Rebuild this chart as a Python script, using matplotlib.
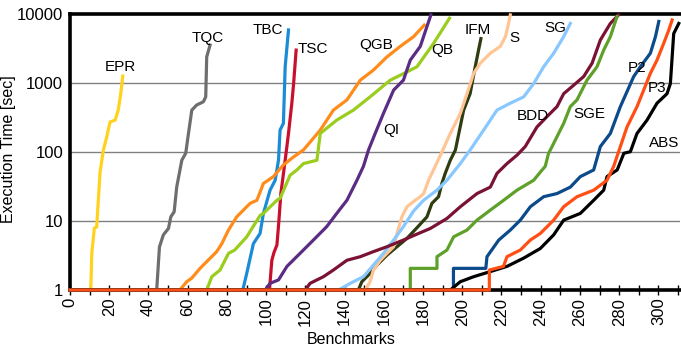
import matplotlib
matplotlib.use("Agg")
import matplotlib.pyplot as plt
from matplotlib.ticker import MultipleLocator, FixedLocator, NullFormatter

plt.rcParams['font.family'] = ['Liberation Sans', 'DejaVu Sans']

# benchmarks solved (x) vs execution time in seconds (y)
epr_x = [10.6, 11.1, 12.4, 13.6, 15.3, 17, 18.7, 20.4, 23, 24.6, 25.9, 26.9]
epr_y = [1, 3.4, 7.9, 8.2, 50, 107, 164, 272, 290, 405, 710, 1260]

tqc_x = [44.2, 45.6, 47.6, 50.2, 51.4, 53.1, 54.4, 57, 59, 60.4, 62.1, 64.6, 68, 69.2, 69.7, 71.4]
tqc_y = [1, 4.2, 6.3, 7.8, 11.5, 13.6, 31, 76, 96, 186, 405, 480, 535, 630, 2390, 3540]

qgb_x = [56, 59.5, 62, 66.3, 71.4, 74.8, 77.4, 80.8, 85, 91.8, 95.3, 98.6, 103.7, 108.8, 114,
         119, 127.6, 134.3, 141.2, 148, 154.7, 161.6, 168.4, 175.2, 180.6]
qgb_y = [1, 1.32, 1.48, 2.06, 2.88, 3.6, 4.7, 7.4, 11.5, 18, 20, 35, 44, 65, 85,
         107, 208, 405, 570, 1100, 1540, 2390, 3400, 4700, 6900]

qb_x = [69.7, 72.3, 76.5, 80.8, 84, 90.1, 96.9, 98.6, 105.5, 107.1, 112.2, 115.7, 119, 125.9, 127.6,
        136, 144.5, 153, 163.3, 171.8, 176.9, 185.4, 193.5]
qb_y = [1, 1.56, 1.95, 3.4, 3.8, 5.9, 12, 12.9, 20, 21.3, 46, 55, 68, 76, 186,
        290, 405, 630, 1100, 1450, 1720, 3760, 8700]

tbc_x = [88.1, 90.1, 93.5, 96.9, 98.6, 102, 104.6, 106.3, 107.1, 108.8, 109.7, 111.4]
tbc_y = [1, 1.74, 4.7, 6.6, 12.9, 28, 39, 76, 208, 260, 1720, 5870]

tsc_x = [101.7, 102.9, 104, 105.5, 106.5, 107.5, 109.7, 111.4, 113.1, 114, 115.3]
tsc_y = [1, 2.7, 3.5, 4.5, 10, 25, 76, 186, 510, 980, 3000]

qi_x = [99.5, 102, 106.3, 110.6, 117.3, 124.1, 130.9, 136, 141.2, 146.3, 149.6, 152.2, 155.6,
        159.8, 165, 170, 173.5, 178.6, 182, 184]
qi_y = [1, 1.25, 1.4, 2.2, 3.4, 5.3, 8.3, 12.9, 20, 39, 62, 107, 186,
        362, 790, 1100, 2150, 3400, 6600, 9700]

bdd_x = [119.9, 122.4, 129.2, 134.3, 141.2, 148, 154.7, 161.6, 170, 176, 183.7, 192.2, 199,
         207.5, 214.3, 217.7, 222.8, 227.9, 232.1, 238.1, 243.2, 248.3, 251.7, 256.8, 261.9,
         266.2, 270.4, 275.5, 279.7]
bdd_y = [1, 1.25, 1.56, 1.95, 2.7, 3.04, 3.6, 4.24, 5.3, 6.3, 7.8, 10.9, 16.1,
         25, 31, 49, 68, 90, 120, 231, 326, 455, 700, 930, 1240,
         1940, 4200, 7300, 9700]

sg_x = [136.9, 142.9, 149.6, 154.7, 159.8, 165, 170, 175.2, 180.3, 187.1, 192.2, 199, 204,
        210.9, 217.7, 224.5, 231.3, 236.4, 241.5, 246.6, 251.7, 255.1]
sg_y = [1, 1.25, 1.56, 2.3, 3.4, 5.3, 8.3, 14, 20, 28, 39, 68, 107,
        208, 405, 510, 630, 980, 1720, 2700, 4700, 7300]

ifm_x = [147, 148.8, 153, 156.5, 161.6, 166.7, 171.8, 176.9, 182, 184.5, 187.9, 189.6, 191.3,
         193.9, 196.5, 200.7, 204, 206.6, 208.3, 209.5]
ifm_y = [1, 1.32, 1.74, 2.3, 3.2, 4.24, 5.6, 8, 11.5, 18, 22.5, 35, 49,
         76, 107, 405, 700, 1720, 3000, 4400]

s_x = [150.5, 153, 154.7, 158.2, 161.6, 165, 166.7, 169.2, 171.8, 176, 178.6, 180.3, 182.8, 186.2,
       189.6, 193.9, 199, 202.4, 205.8, 209.2, 214.3, 219.4, 222, 223.6, 224.5]
s_y = [1, 1.32, 1.95, 2.7, 3.4, 4.24, 6.6, 11.5, 16.1, 20, 22.5, 25, 39, 62,
       100, 186, 362, 700, 1380, 1940, 2700, 3400, 4700, 7300, 9700]

sge_x = [173.5, 173.5, 175.2, 187.1, 187.1, 192.2, 195.6, 202.4, 207.5, 214.3, 221.1, 227.9, 236.4,
         240, 242.3, 244, 244.9, 251.7, 255.1, 258.5, 263.6, 268.7, 272.1, 275.5, 278.9]
sge_y = [1, 2.06, 2.06, 2.06, 3.04, 3.8, 5.9, 7.4, 10.3, 14.4, 20, 28, 39,
         52, 62, 96, 107, 260, 455, 570, 1100, 1720, 3000, 4700, 9200]

p2_x = [195.5, 195.5, 212, 212.6, 218.6, 224.5, 229.6, 234.7, 241.5, 248.3, 255.1, 260.2, 267,
        270.4, 275.5, 280.6, 287.4, 290.8, 295.9, 298.5, 300.2]
p2_y = [1, 2.06, 2.06, 3.04, 5.3, 7.4, 10.3, 16.1, 22.5, 25, 31, 44, 55,
        120, 186, 455, 1240, 1720, 2700, 4700, 7800]

abs_x = [193.9, 199, 205.8, 214.3, 222.8, 231.3, 239.8, 246.6, 251.7, 260.2, 267, 272.1, 273.8,
         279, 282.4, 285.7, 289.1, 294.2, 299.3, 304.4, 306.1, 307.8, 310.4]
abs_y = [1, 1.32, 1.56, 1.85, 2.2, 2.9, 4, 6.3, 10.3, 12.9, 20, 28, 44,
         55, 96, 101, 186, 290, 510, 700, 980, 5200, 7300]

p3_x = [213.8, 213.8, 221, 222.8, 229.6, 234.7, 239.8, 246.6, 251.7, 258.5, 267, 273.8, 277.2,
        280.6, 284, 289.1, 292.5, 295.9, 299.3, 302.7, 305.3, 307]
p3_y = [1, 1.95, 2.2, 3.04, 3.8, 5.3, 6.6, 10.3, 16.1, 22.5, 28, 39, 62,
        120, 231, 455, 790, 1380, 2150, 3760, 5870, 8200]

series = [
    ("EPR", epr_x, epr_y, "#FFD21E", 25.5, 1700),
    ("TQC", tqc_x, tqc_y, "#6E6E6E", 70.4, 4500),
    ("TBC", tbc_x, tbc_y, "#1A8BD6", 101, 5900),
    ("TSC", tsc_x, tsc_y, "#C8102E", 124, 3100),
    ("QGB", qgb_x, qgb_y, "#FF8C1A", 156, 3540),
    ("QB", qb_x, qb_y, "#9ACD1E", 190, 3000),
    ("QI", qi_x, qi_y, "#5B2C83", 164, 208),
    ("IFM", ifm_x, ifm_y, "#2F3C10", 207.7, 5900),
    ("S", s_x, s_y, "#FFC594", 226.5, 4500),
    ("SG", sg_x, sg_y, "#88C8FF", 247.4, 6300),
    ("BDD", bdd_x, bdd_y, "#7A1333", 236, 333),
    ("SGE", sge_x, sge_y, "#5EA02A", 265, 354),
    ("P2", p2_x, p2_y, "#0B4A8B", 289, 1650),
    ("ABS", abs_x, abs_y, "#000000", 303, 134),
    ("P3", p3_x, p3_y, "#FF4F14", 299.5, 850),
]

fig = plt.figure(figsize=(6.81, 3.46), dpi=100)
ax = fig.add_axes([0.1028, 0.1618, 0.8957, 0.7977])

for name, xs, ys, col, lx, ly in series:
    # every curve starts at the origin (1 sec floor)
    ax.plot([0] + xs, [1] + ys, color=col, lw=2.3, clip_on=False, zorder=3)
    ax.text(lx, ly, name, ha="center", va="center", fontsize=11, zorder=4)

ax.set_yscale("log")
ax.set_ylim(1, 10000)
ax.set_xlim(0, 311)
ax.set_yticks([1, 10, 100, 1000, 10000])
ax.set_yticklabels(["1", "10", "100", "1000", "10000"])
ax.yaxis.set_minor_locator(FixedLocator([]))
ax.yaxis.set_minor_formatter(NullFormatter())
ax.tick_params(axis="y", length=0, labelsize=12, pad=5)
ax.xaxis.set_major_locator(MultipleLocator(20))
ax.xaxis.set_minor_locator(MultipleLocator(10))
ax.tick_params(axis="x", which="both", direction="inout", length=7, width=1,
               labelsize=12, labelrotation=90, pad=2)

for v in [10, 100, 1000]:
    ax.axhline(v, color="#808080", lw=1, zorder=1)

for side in ["top", "left", "bottom"]:
    ax.spines[side].set_linewidth(2.6)
    ax.spines[side].set_color("black")
ax.spines["right"].set_visible(False)

ax.set_xlabel("Benchmarks", fontsize=11.5)
ax.xaxis.set_label_coords((351 - 70) / 610, -0.152)
ax.set_ylabel("Execution Time [sec]", fontsize=11.5)
ax.yaxis.set_label_coords((16 - 70) / 610, 0.51)

fig.savefig("out.png", dpi=100)
